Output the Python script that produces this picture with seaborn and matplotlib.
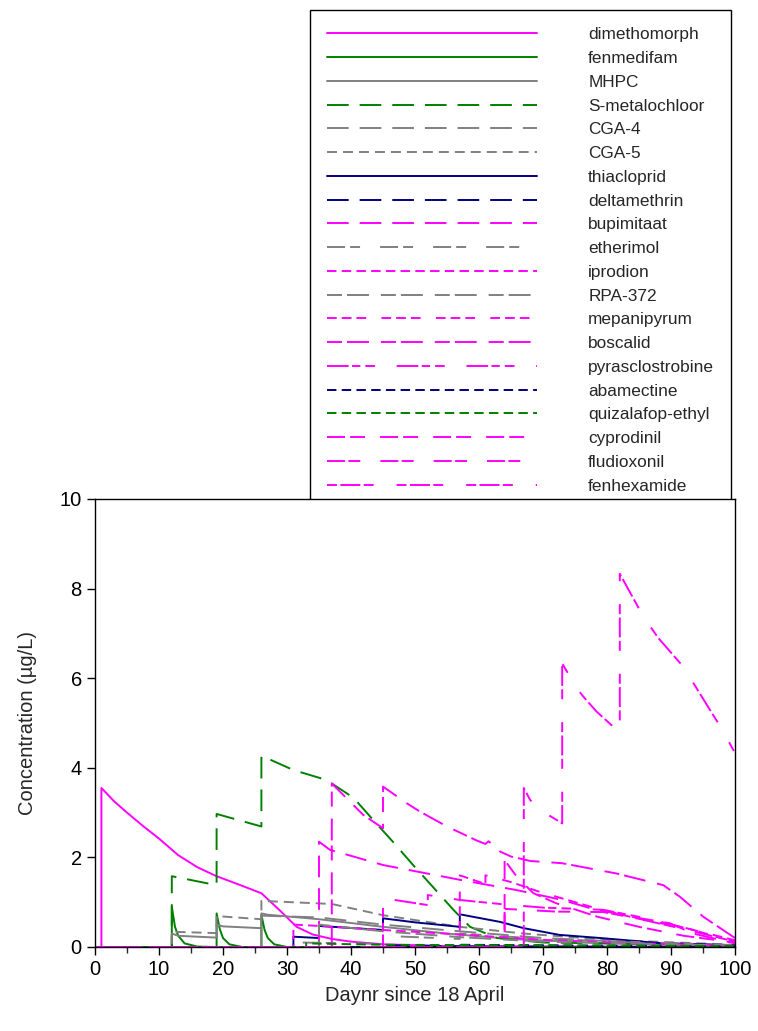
import matplotlib
matplotlib.use("Agg")
import matplotlib as mpl
import matplotlib.pyplot as plt
from matplotlib.lines import Line2D
import seaborn as sns
import pandas as pd

# ---------------- data ----------------
names = ["dimethomorph", "fenmedifam", "MHPC", "S-metalochloor", "CGA-4", "CGA-5",
         "thiacloprid", "deltamethrin", "bupimitaat", "etherimol", "iprodion", "RPA-372",
         "mepanipyrum", "boscalid", "pyrasclostrobine", "abamectine", "quizalafop-ethyl",
         "cyprodinil", "fludioxonil", "fenhexamide"]

dimethomorph_day = [0, 1, 1, 3, 5, 7.5, 10, 13, 16, 19, 22, 26, 27.5, 29, 31.5, 34, 37, 40, 45, 55, 100]
dimethomorph_val = [0, 0, 3.55, 3.25, 3.0, 2.7, 2.42, 2.05, 1.78, 1.58, 1.42, 1.2, 1.0, 0.8, 0.45, 0.28, 0.18, 0.12, 0.06, 0.02, 0.0]

fenmedifam_day = [0, 12, 12, 12.5, 13, 14, 16, 19, 19, 19.5, 20, 21, 23, 26, 26, 26.5, 27, 28, 30, 100]
fenmedifam_val = [0, 0, 0.9, 0.45, 0.25, 0.08, 0.01, 0, 0.75, 0.4, 0.2, 0.06, 0, 0, 0.72, 0.38, 0.2, 0.06, 0, 0]

mhpc_day = [0, 12, 12, 13, 19, 19, 20, 26, 26, 27, 35, 45, 55, 65, 80, 100]
mhpc_val = [0, 0, 0.3, 0.25, 0.21, 0.5, 0.46, 0.42, 0.75, 0.72, 0.62, 0.45, 0.3, 0.18, 0.08, 0.02]

smeta_day = [0, 12, 12, 19, 19, 26, 26, 31, 35.2, 37, 40.4, 43.5, 46.6, 49.7, 52.8, 56, 58.6, 62.8, 70, 100]
smeta_val = [0, 0, 1.58, 1.38, 2.97, 2.69, 4.27, 3.95, 3.77, 3.65, 3.33, 2.83, 2.34, 1.83, 1.34, 0.83, 0.45, 0.2, 0.1, 0.04]

cga4_day = [0, 26, 26, 35, 45, 57, 70, 85, 100]
cga4_val = [0, 0, 0.7, 0.66, 0.5, 0.35, 0.2, 0.1, 0.04]

cga5_day = [0, 12, 12, 19, 19, 26, 26, 37, 45, 57, 67, 80, 100]
cga5_val = [0, 0, 0.34, 0.31, 0.69, 0.62, 1.03, 0.96, 0.71, 0.45, 0.3, 0.16, 0.05]

thiacloprid_day = [0, 31, 31, 35, 35, 45, 45, 50, 57, 57, 63.3, 67, 72.6, 79, 88, 100]
thiacloprid_val = [0, 0, 0.23, 0.2, 0.47, 0.38, 0.64, 0.55, 0.45, 0.73, 0.56, 0.42, 0.27, 0.2, 0.09, 0.04]

deltamethrin_day = [0, 45, 45, 60, 100]
deltamethrin_val = [0, 0, 0.04, 0.01, 0.0]

bupimitaat_day = [0, 35, 35, 36.7, 45, 57, 65.9, 73, 77.3, 83.6, 89.8, 93.5, 100]
bupimitaat_val = [0, 0, 2.35, 2.17, 1.83, 1.5, 1.27, 1.05, 0.87, 0.68, 0.53, 0.3, 0.08]

etherimol_day = [0, 32, 32, 45, 45, 57, 57, 70, 100]
etherimol_val = [0, 0, 0.1, 0.07, 0.25, 0.18, 0.3, 0.18, 0.04]

iprodion_day = [0, 31, 31, 35, 45, 57, 70, 85, 100]
iprodion_val = [0, 0, 0.5, 0.47, 0.38, 0.28, 0.16, 0.08, 0.03]

rpa_day = [0, 35, 35, 45, 57, 70, 100]
rpa_val = [0, 0, 0.5, 0.35, 0.22, 0.12, 0.03]

mepanipyrum_day = [0, 57, 57, 60.7, 61, 61, 65, 69.5, 78.4, 84.6, 92.4, 100]
mepanipyrum_val = [0, 0, 1.6, 1.42, 1.4, 1.6, 1.45, 1.23, 0.86, 0.64, 0.42, 0.15]

boscalid_day = [0, 37, 37, 41.9, 45, 45, 48.7, 50.8, 55, 59.6, 61, 61.5, 63.3, 65, 68, 73, 81.5, 88.8, 91.4, 95, 100]
boscalid_val = [0, 0, 3.65, 2.95, 2.65, 3.58, 3.21, 3.02, 2.69, 2.38, 2.3, 2.36, 2.13, 2.02, 1.92, 1.87, 1.64, 1.38, 1.12, 0.68, 0.2]

pyraclo_day = [0, 45, 45, 51.8, 52, 52, 57, 64, 70, 79.4, 86.2, 92.4, 100]
pyraclo_val = [0, 0, 1.09, 0.94, 0.94, 1.16, 1.05, 0.95, 0.88, 0.83, 0.64, 0.42, 0.12]

abamectine_day = [0, 57, 57, 100]
abamectine_val = [0, 0, 0.05, 0.01]

quizalafop_day = [0, 33, 33, 45, 100]
quizalafop_val = [0, 0, 0.08, 0.05, 0.02]

cyprodinil_day = [0, 64, 64, 66, 68.5, 72, 78.4, 85, 92, 100]
cyprodinil_val = [0, 0, 1.94, 1.55, 1.2, 0.98, 0.68, 0.45, 0.25, 0.1]

fludioxonil_day = [0, 64, 64, 67, 72, 79.4, 84.6, 92, 100]
fludioxonil_val = [0, 0, 0.85, 0.83, 0.79, 0.78, 0.64, 0.4, 0.12]

fenhexamide_day = [0, 67, 67, 68, 70, 73, 73, 75.3, 76.3, 78.4, 81.8, 82, 82, 85.7, 88, 91.9, 96.1, 98, 100]
fenhexamide_val = [0, 0, 3.55, 3.28, 3.02, 2.76, 6.33, 5.77, 5.59, 5.25, 4.81, 4.78, 8.33, 7.37, 6.9, 6.26, 5.29, 4.85, 4.33]

series = {
    "dimethomorph": (dimethomorph_day, dimethomorph_val),
    "fenmedifam": (fenmedifam_day, fenmedifam_val),
    "MHPC": (mhpc_day, mhpc_val),
    "S-metalochloor": (smeta_day, smeta_val),
    "CGA-4": (cga4_day, cga4_val),
    "CGA-5": (cga5_day, cga5_val),
    "thiacloprid": (thiacloprid_day, thiacloprid_val),
    "deltamethrin": (deltamethrin_day, deltamethrin_val),
    "bupimitaat": (bupimitaat_day, bupimitaat_val),
    "etherimol": (etherimol_day, etherimol_val),
    "iprodion": (iprodion_day, iprodion_val),
    "RPA-372": (rpa_day, rpa_val),
    "mepanipyrum": (mepanipyrum_day, mepanipyrum_val),
    "boscalid": (boscalid_day, boscalid_val),
    "pyrasclostrobine": (pyraclo_day, pyraclo_val),
    "abamectine": (abamectine_day, abamectine_val),
    "quizalafop-ethyl": (quizalafop_day, quizalafop_val),
    "cyprodinil": (cyprodinil_day, cyprodinil_val),
    "fludioxonil": (fludioxonil_day, fludioxonil_val),
    "fenhexamide": (fenhexamide_day, fenhexamide_val),
}

# ---------------- styles ----------------
MAG, GRN, GRY, NAV = "#FF00FF", "#008000", "#808080", "#000080"
colors = {
    "dimethomorph": MAG, "fenmedifam": GRN, "MHPC": GRY, "S-metalochloor": GRN,
    "CGA-4": GRY, "CGA-5": GRY, "thiacloprid": NAV, "deltamethrin": NAV,
    "bupimitaat": MAG, "etherimol": GRY, "iprodion": MAG, "RPA-372": GRY,
    "mepanipyrum": MAG, "boscalid": MAG, "pyrasclostrobine": MAG, "abamectine": NAV,
    "quizalafop-ethyl": GRN, "cyprodinil": MAG, "fludioxonil": MAG, "fenhexamide": MAG,
}
LONG = (15.6, 7.9)
SHORT = (6.8, 3.8)
dashes = {
    "dimethomorph": "", "fenmedifam": "", "MHPC": "", "S-metalochloor": LONG,
    "CGA-4": LONG, "CGA-5": (7.2, 4.3), "thiacloprid": "", "deltamethrin": LONG,
    "bupimitaat": LONG, "etherimol": (13, 3.6, 7.2, 14.4), "iprodion": SHORT,
    "RPA-372": (10.8, 3.6, 15.8, 8.6), "mepanipyrum": (7, 3.6, 7, 3.6, 7, 11),
    "boscalid": (10.8, 3.6, 15.8, 8.6), "pyrasclostrobine": (15.6, 2.4, 6, 3.6, 7, 15.6),
    "abamectine": SHORT, "quizalafop-ethyl": SHORT, "cyprodinil": (13, 3.6, 10.8, 10.8),
    "fludioxonil": (13, 2.4, 8.6, 14.4), "fenhexamide": (7.2, 2.4, 14.4, 2.4, 7.2, 16.5),
}

rows = []
for n in names:
    d, v = series[n]
    for i, (x, y) in enumerate(zip(d, v)):
        rows.append({"compound": n, "day": x, "conc": y, "idx": i})
df = pd.DataFrame(rows)

# ---------------- plotting ----------------
sns.set_style("ticks")
plt.rcParams["font.family"] = ["Liberation Sans", "DejaVu Sans"]
plt.rcParams["lines.scale_dashes"] = False

fig = plt.figure(figsize=(7.58, 10.31), dpi=100)
ax = fig.add_axes([95 / 758, 84 / 1031, 640 / 758, 448 / 1031])
ax.set_zorder(2)
ax.patch.set_facecolor("white")
ax.patch.set_alpha(1)

sns.lineplot(data=df, x="day", y="conc", hue="compound", style="compound",
             hue_order=names, style_order=names, palette=colors, dashes=dashes,
             estimator=None, sort=False, units="compound", linewidth=1.4,
             legend=False, ax=ax)

ax.set_xlim(0, 100)
ax.set_ylim(0, 10)
ax.set_xticks(range(0, 101, 10))
ax.set_xticks(range(5, 100, 10), minor=True)
ax.set_yticks(range(0, 11, 2))
ax.tick_params(axis="both", which="major", direction="out", length=6, width=1,
               labelsize=14.5, colors="black")
ax.tick_params(axis="x", which="minor", direction="out", length=4, width=1)
for s in ax.spines.values():
    s.set_visible(True)
    s.set_linewidth(1)
    s.set_color("black")
ax.set_xlabel("Daynr since 18 April", fontsize=14.5, labelpad=5)
ax.set_ylabel("Concentration (µg/L)", fontsize=14.5, labelpad=16)

handles = []
for n in names:
    ds = dashes[n]
    ls = "-" if ds == "" else (0, ds)
    handles.append(Line2D([], [], color=colors[n], lw=1.4, linestyle=ls))
leg = fig.legend(handles, names, loc="upper left",
                 bbox_to_anchor=(310 / 758, 1 - 10 / 1031),
                 fontsize=12.4, handlelength=12.2, handletextpad=2.95,
                 labelspacing=0.505, borderpad=1.0, borderaxespad=0,
                 frameon=True, fancybox=False, framealpha=1, edgecolor="black")
leg.get_frame().set_linewidth(1)
leg.set_zorder(1)

fig.savefig("out.png", dpi=100)
